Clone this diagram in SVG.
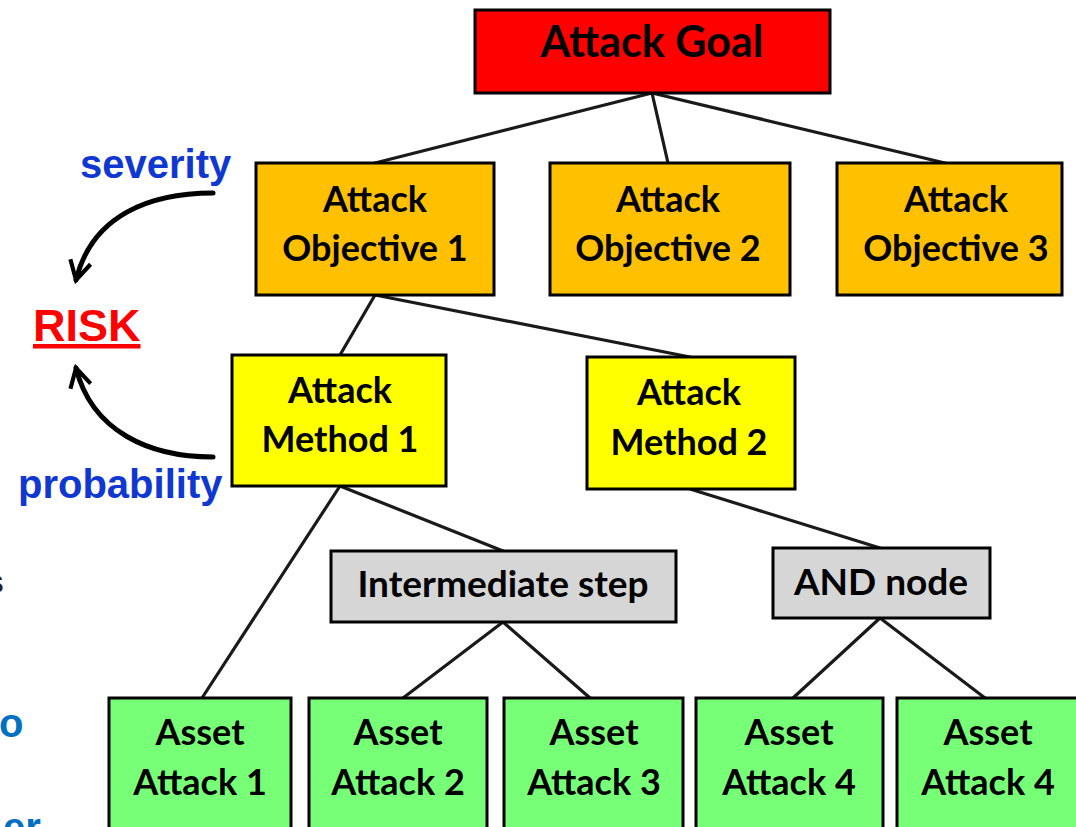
<svg xmlns="http://www.w3.org/2000/svg" width="1076" height="827" viewBox="0 0 1076 827">
<style>
.box{stroke:#000;stroke-width:3}
.goal{fill:#FF0000}
.obj{fill:#FFC000}
.meth{fill:#FFFF00}
.step{fill:#D6D6D6}
.asset{fill:#78FF78}
.t{font-family:Lato,"Liberation Sans",sans-serif;font-weight:700;fill:#000;text-anchor:middle}
.lbl{font-family:"Liberation Sans",Arial,sans-serif;font-weight:700}
.conn line{stroke:#1a1a1a;stroke-width:3.2;stroke-linecap:round}
.curve{fill:none;stroke:#000;stroke-width:5;stroke-linecap:round}
</style>
<defs>
<marker id="chev" viewBox="0 0 12 12" refX="10" refY="6" markerWidth="5" markerHeight="5" orient="auto" markerUnits="strokeWidth">
<path d="M1,1 L10,6 L1,11" fill="none" stroke="#000" stroke-width="2" stroke-linejoin="miter"/>
</marker>
</defs>
<rect width="1076" height="827" fill="#fff"/>

<g id="connectors" class="conn">
<line x1="652" y1="93" x2="375" y2="163"/>
<line x1="652" y1="93" x2="668" y2="163"/>
<line x1="652" y1="93" x2="945" y2="163"/>
<line x1="375" y1="295" x2="340" y2="355"/>
<line x1="375" y1="295" x2="690" y2="357"/>
<line x1="340" y1="486" x2="202" y2="698"/>
<line x1="340" y1="486" x2="503" y2="551"/>
<line x1="690" y1="489" x2="880" y2="548"/>
<line x1="503" y1="622" x2="403" y2="698"/>
<line x1="503" y1="622" x2="590" y2="698"/>
<line x1="880" y1="618" x2="793" y2="698"/>
<line x1="880" y1="618" x2="985" y2="698"/>
</g>

<g id="goal"><rect class="box goal" x="475" y="10" width="355" height="83"/>
<text class="t" x="652" y="57" font-size="43">Attack Goal</text></g>

<g id="obj1"><rect class="box obj" x="256" y="163" width="238" height="132"/>
<text class="t" x="375" y="212" font-size="36">Attack</text><text class="t" x="375" y="261" font-size="36">Objective 1</text></g>
<g id="obj2"><rect class="box obj" x="550" y="163" width="240" height="132"/>
<text class="t" x="668" y="212" font-size="36">Attack</text><text class="t" x="668" y="261" font-size="36">Objective 2</text></g>
<g id="obj3"><rect class="box obj" x="837" y="163" width="225" height="132"/>
<text class="t" x="956" y="212" font-size="36">Attack</text><text class="t" x="956" y="261" font-size="36">Objective 3</text></g>

<g id="method1"><rect class="box meth" x="232" y="355" width="214" height="131"/>
<text class="t" x="340" y="403" font-size="36">Attack</text><text class="t" x="340" y="452" font-size="36">Method 1</text></g>
<g id="method2"><rect class="box meth" x="587" y="357" width="208" height="132"/>
<text class="t" x="689" y="405" font-size="36">Attack</text><text class="t" x="689" y="455" font-size="36">Method 2</text></g>

<g id="intermediate"><rect class="box step" x="331" y="551" width="345" height="71"/>
<text class="t" x="503" y="597" font-size="37">Intermediate step</text></g>
<g id="andnode"><rect class="box step" x="773" y="548" width="217" height="70"/>
<text class="t" x="881" y="595" font-size="37">AND node</text></g>

<g id="asset1"><rect class="box asset" x="109" y="698" width="182" height="140"/>
<text class="t" x="200" y="745" font-size="36">Asset</text><text class="t" x="200" y="795" font-size="36">Attack 1</text></g>
<g id="asset2"><rect class="box asset" x="309" y="698" width="178" height="140"/>
<text class="t" x="398" y="745" font-size="36">Asset</text><text class="t" x="398" y="795" font-size="36">Attack 2</text></g>
<g id="asset3"><rect class="box asset" x="504" y="698" width="179" height="140"/>
<text class="t" x="594" y="745" font-size="36">Asset</text><text class="t" x="594" y="795" font-size="36">Attack 3</text></g>
<g id="asset4a"><rect class="box asset" x="696" y="698" width="187" height="140"/>
<text class="t" x="789" y="745" font-size="36">Asset</text><text class="t" x="789" y="795" font-size="36">Attack 4</text></g>
<g id="asset4b"><rect class="box asset" x="897" y="698" width="190" height="140"/>
<text class="t" x="988" y="745" font-size="36">Asset</text><text class="t" x="988" y="795" font-size="36">Attack 4</text></g>

<g id="risk-labels">
<text class="lbl" x="80" y="178" font-size="40" fill="#1038D0">severity</text>
<text class="lbl" x="18" y="498" font-size="40" fill="#1038D0">probability</text>
<text class="lbl" x="33" y="341" font-size="45" fill="#FF0000" text-decoration="underline">RISK</text>
<path class="curve" d="M213,193 C150,193 92,215 76,280" marker-end="url(#chev)"/>
<path class="curve" d="M213,457 C150,457 92,432 76,368" marker-end="url(#chev)"/>
</g>

<g id="cut-texts">
<text class="lbl" x="-15" y="593" font-size="34" fill="#222">s</text>
<text class="lbl" x="-1" y="737" font-size="40" fill="#0070C0">o</text>
<text class="lbl" x="3" y="841" font-size="40" fill="#0070C0">er</text>
</g>
</svg>
